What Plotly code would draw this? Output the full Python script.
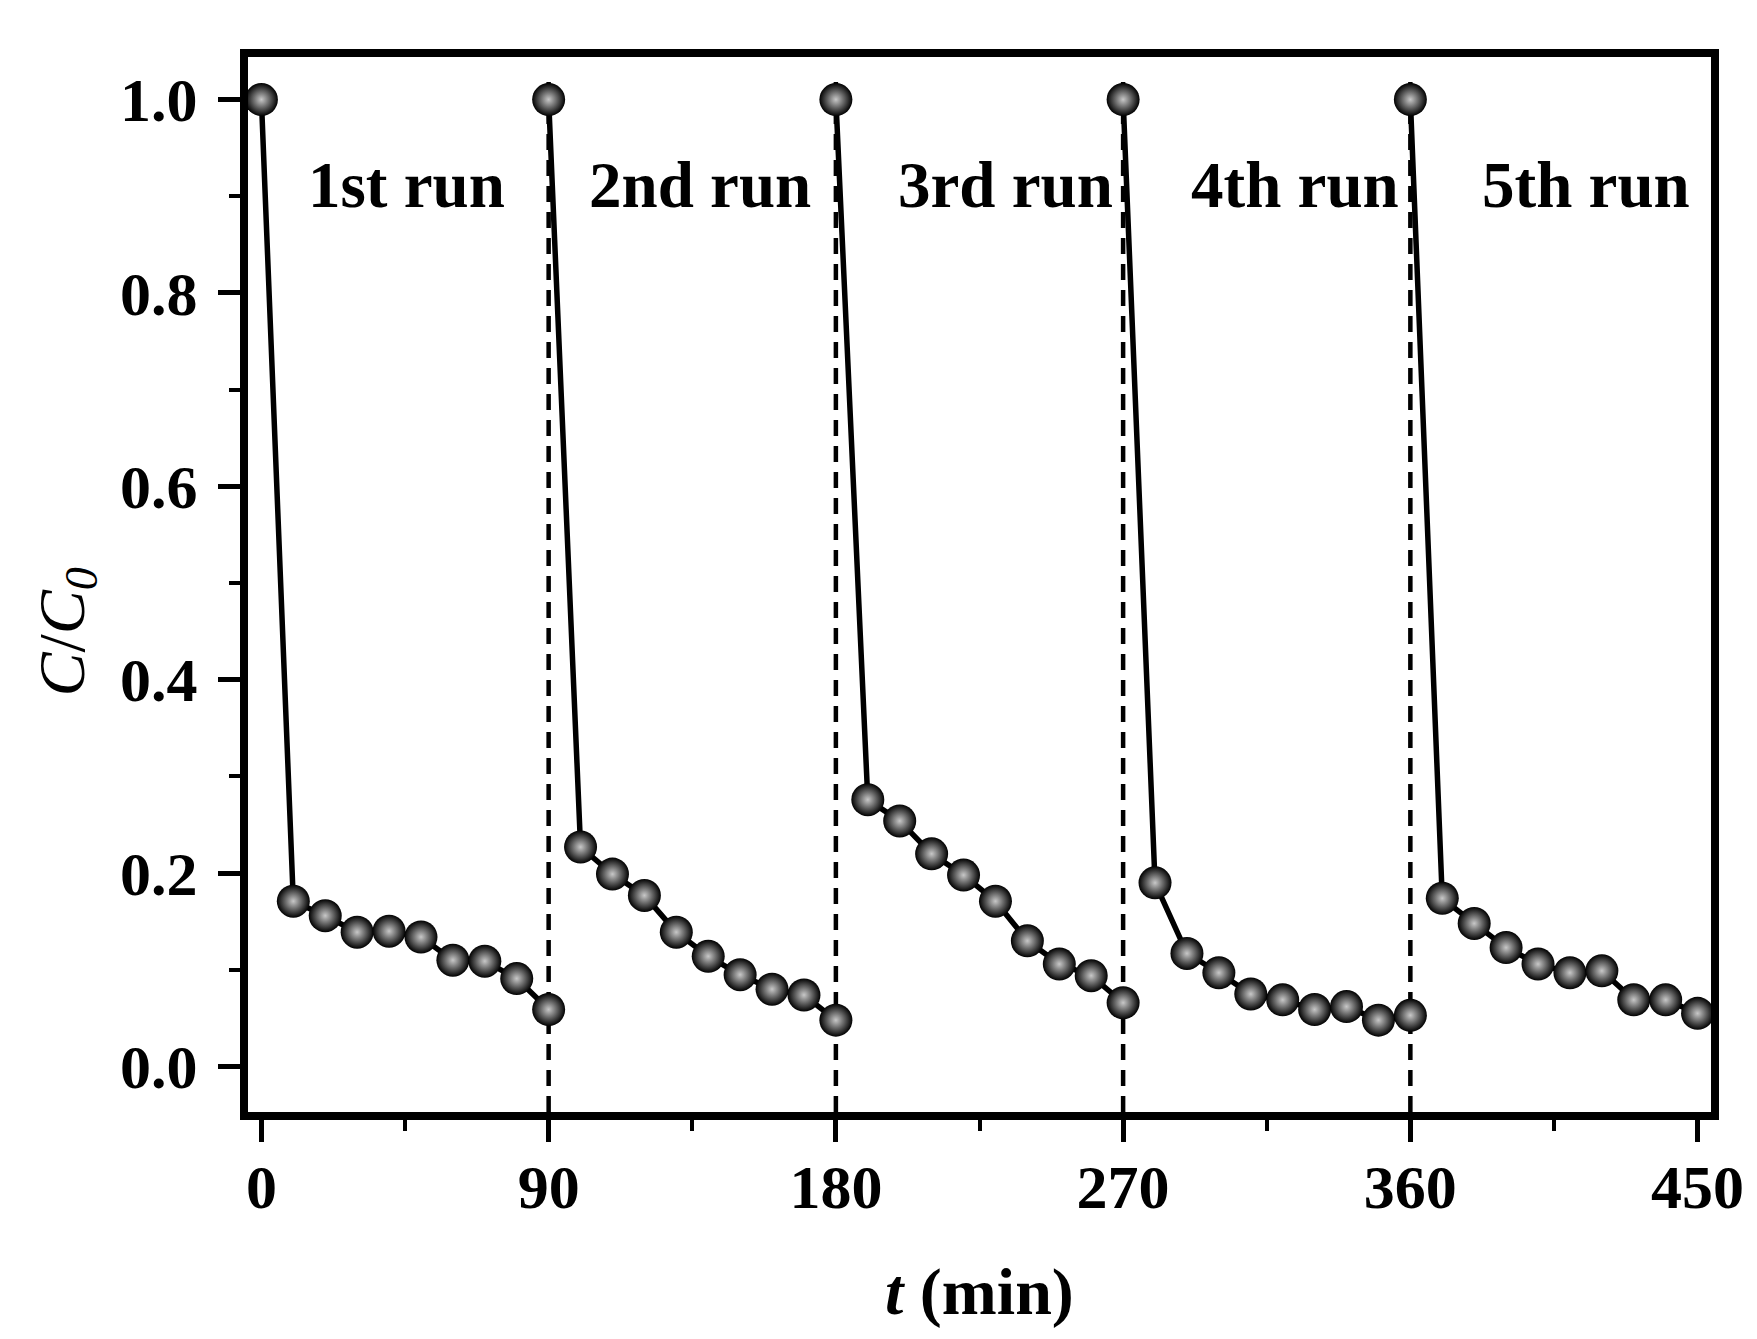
import plotly.graph_objects as go

# time points (min) and C/C0 for each of the five cycles
run_times = [
    [0, 10, 20, 30, 40, 50, 60, 70, 80, 90],
    [90, 100, 110, 120, 130, 140, 150, 160, 170, 180],
    [180, 190, 200, 210, 220, 230, 240, 250, 260, 270],
    [270, 280, 290, 300, 310, 320, 330, 340, 350, 360],
    [360, 370, 380, 390, 400, 410, 420, 430, 440, 450],
]
run_values = [
    [1.0, 0.171, 0.156, 0.139, 0.140, 0.134, 0.110, 0.109, 0.091, 0.059],
    [1.0, 0.227, 0.199, 0.177, 0.139, 0.114, 0.095, 0.080, 0.074, 0.048],
    [1.0, 0.276, 0.254, 0.220, 0.198, 0.171, 0.130, 0.106, 0.094, 0.066],
    [1.0, 0.190, 0.117, 0.097, 0.075, 0.069, 0.059, 0.062, 0.048, 0.053],
    [1.0, 0.174, 0.148, 0.123, 0.106, 0.097, 0.099, 0.069, 0.069, 0.055],
]
run_labels = ["1st run", "2nd run", "3rd run", "4th run", "5th run"]
label_x = [45.5, 137.5, 233, 324, 415]
label_y = 0.912
cycle_bounds = [90, 180, 270, 360]
x_tickvals = [0, 90, 180, 270, 360, 450]
y_tickvals = [0.0, 0.2, 0.4, 0.6, 0.8, 1.0]

FONT = "Liberation Serif, Times New Roman, serif"
AXIS_LW = 8

fig = go.Figure()

for xs, ys in zip(run_times, run_values):
    fig.add_trace(
        go.Scatter(
            x=xs,
            y=ys,
            mode="lines+markers",
            line=dict(color="black", width=5.5),
            marker=dict(
                size=33,
                color="black",
                gradient=dict(type="radial", color="#c8c8c8"),
                line=dict(width=0),
            ),
            showlegend=False,
        )
    )

# dashed separators between cycles
for xb in cycle_bounds:
    fig.add_shape(
        type="line",
        x0=xb,
        x1=xb,
        xref="x",
        y0=0,
        y1=0.985,
        yref="paper",
        line=dict(color="black", width=4.5, dash="16px,10px"),
        layer="below",
    )

for txt, xl in zip(run_labels, label_x):
    fig.add_annotation(
        x=xl,
        y=label_y,
        text=f"<b>{txt}</b>",
        showarrow=False,
        xanchor="center",
        yanchor="middle",
        font=dict(family=FONT, size=65, color="black"),
    )

# axis titles as annotations for exact placement
fig.add_annotation(
    xref="paper", yref="paper",
    x=0.5, y=-0.171,
    xanchor="center", yanchor="middle",
    text="<b><i>t</i> (min)</b>",
    showarrow=False,
    font=dict(family=FONT, size=66, color="black"),
)
fig.add_annotation(
    xref="paper", yref="paper",
    x=-0.124, y=0.455,
    xanchor="center", yanchor="middle",
    text="<i>C</i>/<i>C</i><sub><i>0</i></sub>",
    textangle=-90,
    showarrow=False,
    font=dict(family=FONT, size=66, color="black"),
)

fig.update_layout(
    width=1757,
    height=1339,
    margin=dict(l=240, r=54, t=49, b=235),
    plot_bgcolor="white",
    paper_bgcolor="white",
    font=dict(family=FONT, size=62, color="black"),
    xaxis=dict(
        range=[-4.2, 454.2],
        automargin=False,
        tickmode="array",
        tickvals=x_tickvals,
        ticktext=[f"<b>{v}</b>" for v in x_tickvals],
        ticks="outside",
        ticklen=22,
        tickwidth=5,
        tickcolor="black",
        ticklabelstandoff=-8,
        minor=dict(dtick=45, tick0=0, ticks="outside", ticklen=11, tickwidth=4, tickcolor="black"),
        showline=True,
        linewidth=AXIS_LW,
        linecolor="black",
        mirror=True,
        showgrid=False,
        zeroline=False,
    ),
    yaxis=dict(
        range=[-0.047, 1.044],
        automargin=False,
        tickmode="array",
        tickvals=y_tickvals,
        ticktext=[f"<b>{v:.1f}</b>" for v in y_tickvals],
        ticks="outside",
        ticklen=22,
        tickwidth=5,
        tickcolor="black",
        ticklabelstandoff=8,
        minor=dict(dtick=0.1, tick0=0, ticks="outside", ticklen=11, tickwidth=4, tickcolor="black"),
        showline=True,
        linewidth=AXIS_LW,
        linecolor="black",
        mirror=True,
        showgrid=False,
        zeroline=False,
    ),
)

fig.write_html("out.html")
